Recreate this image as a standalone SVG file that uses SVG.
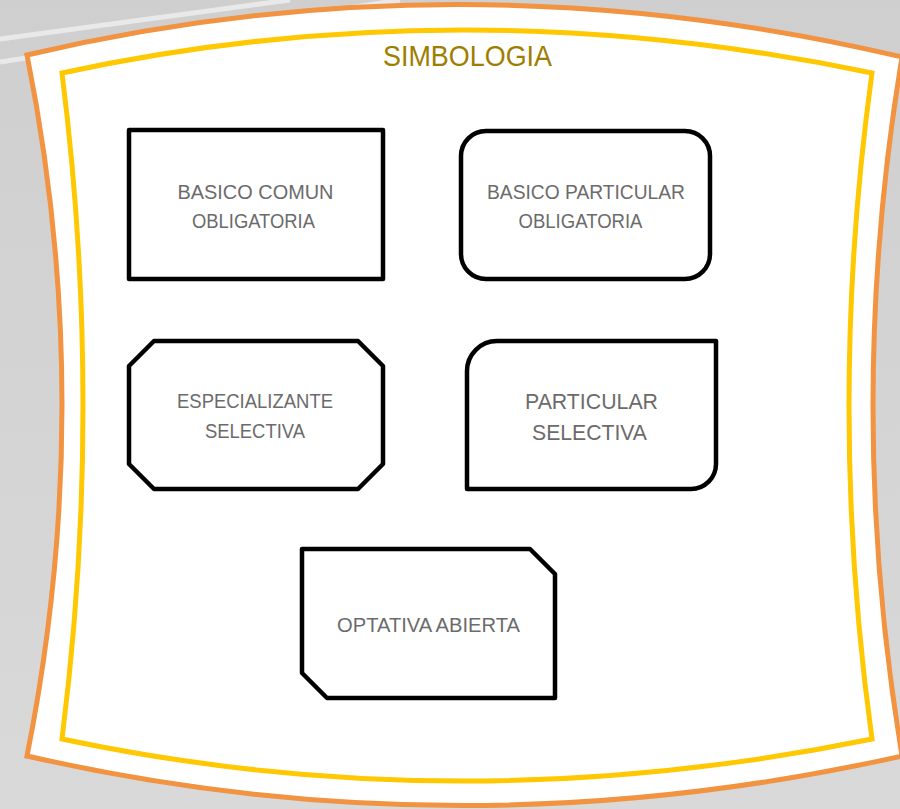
<svg xmlns="http://www.w3.org/2000/svg" width="900" height="809" viewBox="0 0 900 809">
<defs>
<linearGradient id="bg" x1="0" y1="0" x2="0" y2="1">
<stop offset="0" stop-color="#cfcfcf"/>
<stop offset="1" stop-color="#d9d9d9"/>
</linearGradient>
</defs>
<style>
.node{fill:#ffffff;stroke:#000000;stroke-width:4.5;stroke-linejoin:round}
.lbl{font-family:"Liberation Sans",Arial,sans-serif;font-size:20.5px;fill:#6b6b6b;text-anchor:middle}
.big{font-size:22px}
.title{font-family:"Liberation Sans",Arial,sans-serif;font-size:29px;fill:#9e7e00;text-anchor:middle}
</style>
<rect x="0" y="0" width="900" height="809" fill="url(#bg)"/>
<g id="background-lines" stroke="#e9e9e9" stroke-width="5" fill="none">
<line x1="0" y1="39" x2="290" y2="0"/>
<line x1="0" y1="62" x2="400" y2="0"/>
</g>
<g id="frame">
<path d="M27,55 Q460,-47 902,57 Q844,406 902,756 Q460,855 27,756 Q97,405 27,55 Z" fill="#ffffff" stroke="#f19340" stroke-width="5" stroke-linejoin="miter"/>
<path d="M62,73 Q460,-13 872,73 Q826,406 872,739 Q460,823 62,739 Q104,406 62,73 Z" fill="none" stroke="#ffc800" stroke-width="5" stroke-linejoin="miter"/>
<text class="title" x="467.5" y="66" textLength="169" lengthAdjust="spacingAndGlyphs">SIMBOLOGIA</text>
</g>
<g id="connectors"></g>
<g id="basico-comun">
<rect class="node" x="129" y="130" width="254" height="149" stroke-linejoin="miter"/>
<text class="lbl" x="255.5" y="199" textLength="156" lengthAdjust="spacingAndGlyphs">BASICO COMUN</text>
<text class="lbl" x="253.5" y="228" textLength="123" lengthAdjust="spacingAndGlyphs">OBLIGATORIA</text>
</g>
<g id="basico-particular">
<rect class="node" x="461" y="131" width="249" height="148" rx="25" ry="25"/>
<text class="lbl" x="586" y="199" textLength="198" lengthAdjust="spacingAndGlyphs">BASICO PARTICULAR</text>
<text class="lbl" x="580.5" y="228" textLength="124" lengthAdjust="spacingAndGlyphs">OBLIGATORIA</text>
</g>
<g id="especializante">
<path class="node" d="M154,341 H358 L383,366 V464 L358,489 H154 L129,464 V366 Z"/>
<text class="lbl" x="255" y="408" textLength="156" lengthAdjust="spacingAndGlyphs">ESPECIALIZANTE</text>
<text class="lbl" x="255" y="438" textLength="100" lengthAdjust="spacingAndGlyphs">SELECTIVA</text>
</g>
<g id="particular-selectiva">
<path class="node" d="M467,371 A30,30 0 0 1 497,341 H716 V464 A25,25 0 0 1 691,489 H467 Z"/>
<text class="lbl big" x="591.5" y="409" textLength="133" lengthAdjust="spacingAndGlyphs">PARTICULAR</text>
<text class="lbl big" x="589.5" y="440" textLength="115" lengthAdjust="spacingAndGlyphs">SELECTIVA</text>
</g>
<g id="optativa-abierta">
<path class="node" d="M302,549 H530 L555,574 V698 H327 L302,673 Z"/>
<text class="lbl" x="428.5" y="632" textLength="183" lengthAdjust="spacingAndGlyphs">OPTATIVA ABIERTA</text>
</g>
</svg>
